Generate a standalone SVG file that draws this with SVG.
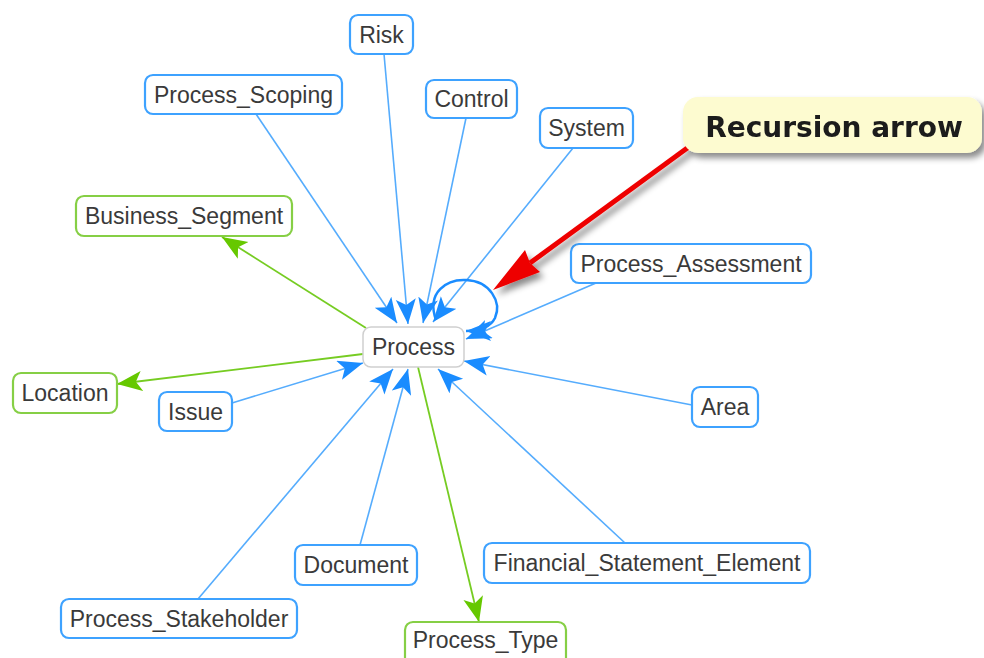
<svg xmlns="http://www.w3.org/2000/svg" width="984" height="658" viewBox="0 0 984 658">
<style>
.nb rect{fill:#fff;stroke:#3ea2ff;stroke-width:2.2}
.ng rect{fill:#fff;stroke:#86cf45;stroke-width:2.2}
.np rect{fill:#fff;stroke:#cfcfcf;stroke-width:1.5}
text.t{font-family:"Liberation Sans",Arial,sans-serif;font-size:23px;fill:#3a3a3a;text-anchor:middle}
.eb{stroke:#55acfd;stroke-width:1.6;fill:none;marker-end:url(#ab)}
.eg{stroke:#76cc22;stroke-width:1.8;fill:none;marker-end:url(#ag)}
</style>
<defs>
<marker id="ab" markerUnits="userSpaceOnUse" markerWidth="28" markerHeight="22" refX="25" refY="10" orient="auto">
<path d="M0,0 L25,10 L0,20 L6,10 z" fill="#1a8cff"/>
</marker>
<marker id="ag" markerUnits="userSpaceOnUse" markerWidth="28" markerHeight="22" refX="25" refY="10" orient="auto">
<path d="M0,0 L25,10 L0,20 L6,10 z" fill="#66c800"/>
</marker>
<filter id="sh" x="-20%" y="-30%" width="140%" height="170%">
<feDropShadow dx="4" dy="5" stdDeviation="3" flood-color="#000" flood-opacity="0.45"/>
</filter>
</defs>
<rect width="984" height="658" fill="#fff"/>
<g id="connectors">
<line class="eb" x1="384" y1="54" x2="408" y2="324"/>
<line class="eb" x1="256" y1="114" x2="397" y2="323"/>
<line class="eb" x1="466" y1="118" x2="423" y2="323"/>
<line class="eb" x1="573" y1="148" x2="433" y2="322"/>
<line class="eb" x1="596" y1="283" x2="466" y2="339"/>
<line class="eb" x1="692" y1="405" x2="464" y2="361"/>
<line class="eb" x1="625" y1="543" x2="438" y2="369"/>
<line class="eb" x1="360" y1="545" x2="408" y2="369"/>
<line class="eb" x1="198" y1="599" x2="393" y2="369"/>
<line class="eb" x1="232" y1="403" x2="363" y2="363"/>
<path d="M436,320 C426,292 447,279 466,280 C490,281 502,302 495,318 C490,328 480,331 466,331" fill="none" stroke="#1a8cff" stroke-width="2.5" marker-end="url(#ab)"/>
<line class="eg" x1="366" y1="328" x2="222" y2="237"/>
<line class="eg" x1="363" y1="354" x2="117" y2="384"/>
<line class="eg" x1="418" y1="367" x2="479" y2="622"/>
</g>
<g id="Risk" class="nb"><rect x="350" y="15" width="63" height="39" rx="8"/><text class="t" x="381.5" y="42.5">Risk</text></g>
<g id="Process_Scoping" class="nb"><rect x="145" y="75" width="197" height="39" rx="8"/><text class="t" x="243.5" y="102.5">Process_Scoping</text></g>
<g id="Control" class="nb"><rect x="426" y="80" width="91" height="38" rx="8"/><text class="t" x="471.5" y="107">Control</text></g>
<g id="System" class="nb"><rect x="540" y="108" width="93" height="40" rx="8"/><text class="t" x="586.5" y="136">System</text></g>
<g id="Business_Segment" class="ng"><rect x="76" y="196" width="216" height="40" rx="8"/><text class="t" x="184" y="224">Business_Segment</text></g>
<g id="Process_Assessment" class="nb"><rect x="571" y="244" width="240" height="39" rx="8"/><text class="t" x="691" y="271.5">Process_Assessment</text></g>
<g id="Process" class="np"><rect x="363" y="327" width="101" height="40" rx="8"/><text class="t" x="413.5" y="355">Process</text></g>
<g id="Location" class="ng"><rect x="13" y="373" width="104" height="40" rx="8"/><text class="t" x="65" y="401">Location</text></g>
<g id="Issue" class="nb"><rect x="159" y="392" width="73" height="39" rx="8"/><text class="t" x="195.5" y="419.5">Issue</text></g>
<g id="Area" class="nb"><rect x="692" y="387" width="66" height="40" rx="8"/><text class="t" x="725" y="415">Area</text></g>
<g id="Document" class="nb"><rect x="295" y="545" width="122" height="40" rx="8"/><text class="t" x="356" y="573">Document</text></g>
<g id="Financial_Statement_Element" class="nb"><rect x="484" y="543" width="326" height="40" rx="8"/><text class="t" x="647" y="571">Financial_Statement_Element</text></g>
<g id="Process_Stakeholder" class="nb"><rect x="61" y="599" width="236" height="39" rx="8"/><text class="t" x="179" y="626.5">Process_Stakeholder</text></g>
<g id="Process_Type" class="ng"><rect x="405" y="622" width="161" height="44" rx="8"/><text class="t" x="485.5" y="648">Process_Type</text></g>
<g id="callout" filter="url(#sh)">
<line x1="690" y1="146" x2="530" y2="263" stroke="#ee0000" stroke-width="5"/>
<polygon points="493,290 525,250 530,263 540,272" fill="#ee0000"/>
<rect x="683" y="97" width="299" height="56" rx="15" fill="#fdfbd0"/>
<text x="834" y="137" font-family="DejaVu Sans, sans-serif" font-weight="bold" font-size="28px" fill="#1a1a1a" text-anchor="middle">Recursion arrow</text>
</g>
</svg>
